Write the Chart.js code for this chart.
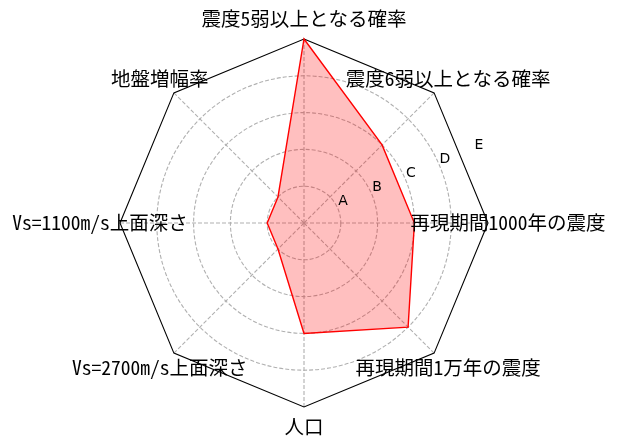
<!DOCTYPE html>
<html>
<head>
<meta charset="utf-8">
<script src="https://cdn.jsdelivr.net/npm/chart.js@4/dist/chart.umd.min.js"></script>
<style>
  html, body { margin: 0; padding: 0; background: #fff; }
  .wrap { width: 618px; height: 446px; }
</style>
</head>
<body>
<div class="wrap"><canvas id="radar"></canvas></div>
<script>
const categories = ['震度5弱以上となる確率', '震度6弱以上となる確率', '再現期間1000年の震度',
    '再現期間1万年の震度', '人口', 'Vs=2700m/s上面深さ', 'Vs=1100m/s上面深さ', '地盤増幅率'];
const scores = [5, 3, 3, 4, 3, 1, 1, 1];
const frameValues = [5, 5, 5, 5, 5, 5, 5, 5];
const tickLabels = ['A', 'B', 'C', 'D', 'E'];

const labelFont = '19.5px "Noto Sans Mono CJK JP", "Noto Sans CJK JP", sans-serif';
const tickFont = '14px "DejaVu Sans", sans-serif';

// draws category names centered outside the frame, and the A-E ring labels
const textPlugin = {
    id: 'radarText',
    afterDraw(chart) {
        const scale = chart.scales.r;
        const ctx = chart.ctx;
        const outer = scale.getDistanceFromCenterForValue(scale.max);
        ctx.save();
        ctx.fillStyle = '#000';
        ctx.textAlign = 'center';
        ctx.textBaseline = 'middle';
        ctx.font = labelFont;
        categories.forEach((name, i) => {
            const p = scale.getPointPosition(i, outer + 20);
            ctx.fillText(name, p.x, p.y);
        });
        ctx.font = tickFont;
        scale.ticks.forEach(t => {
            if (t.value < 1) return;
            const p = scale.getPointPosition(1.5, scale.getDistanceFromCenterForValue(t.value));
            ctx.fillText(tickLabels[t.value - 1], p.x + 5, p.y - 7.5);
        });
        ctx.restore();
    }
};

new Chart(document.getElementById('radar'), {
    type: 'radar',
    data: {
        labels: categories,
        datasets: [{
            data: scores,
            borderColor: 'red',
            borderWidth: 1.4,
            backgroundColor: 'rgba(255, 0, 0, 0.25)',
            fill: true,
            pointRadius: 0,
            pointHoverRadius: 0
        }, {
            data: frameValues,
            borderColor: '#000',
            borderWidth: 1.1,
            fill: false,
            pointRadius: 0,
            pointHoverRadius: 0
        }]
    },
    options: {
        responsive: true,
        maintainAspectRatio: false,
        animation: false,
        layout: { padding: { top: 39, bottom: 39, left: 120, right: 130 } },
        plugins: { legend: { display: false }, tooltip: { enabled: false } },
        scales: {
            r: {
                min: 0,
                max: 5,
                ticks: { stepSize: 1, display: false },
                pointLabels: { display: false },
                grid: {
                    circular: true,
                    lineWidth: 1.1,
                    color: c => c.tick && c.tick.value === 5 ? 'rgba(0,0,0,0)' : '#b0b0b0'
                },
                border: { dash: [4, 2] },
                angleLines: {
                    color: '#b0b0b0',
                    lineWidth: 1.1,
                    borderDash: [4, 2]
                }
            }
        }
    },
    plugins: [textPlugin]
});
</script>
</body>
</html>
